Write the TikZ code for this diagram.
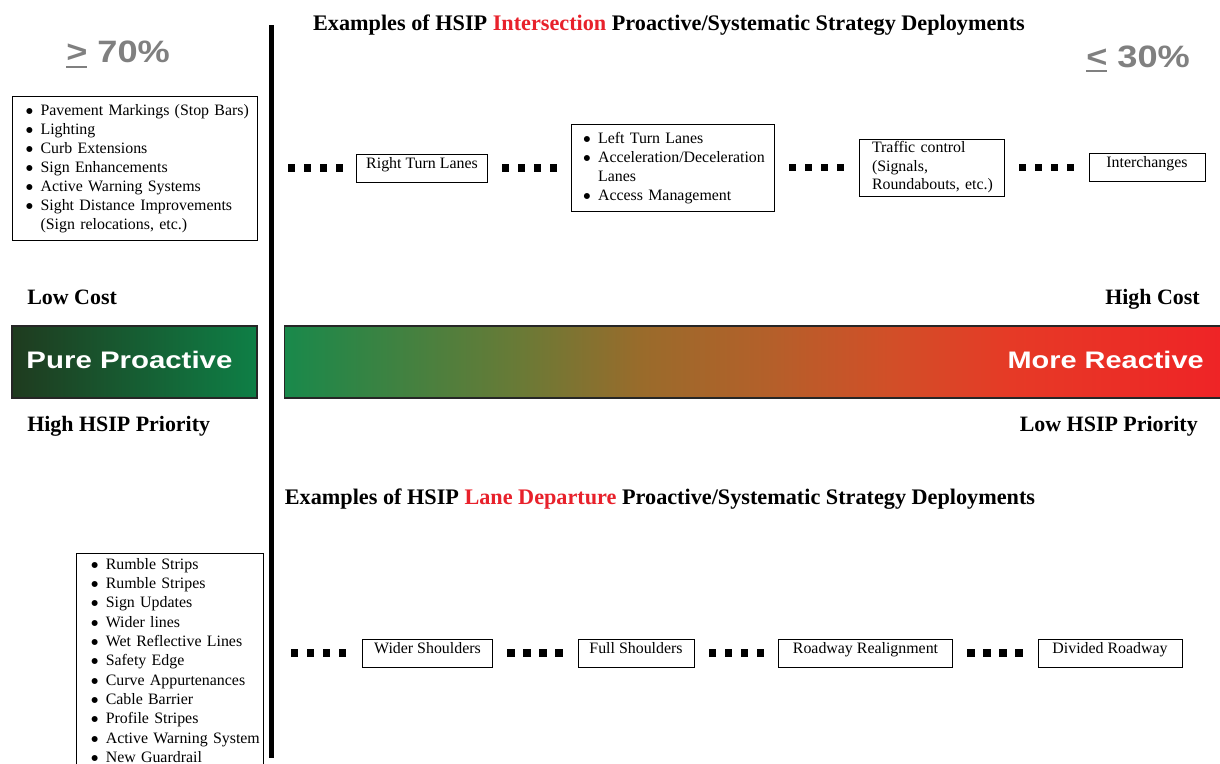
\documentclass[tikz,border=0pt]{standalone}
\usepackage{fontspec}
\setmainfont{Liberation Serif}
\newfontfamily\arialfont{Liberation Sans}
\newfontfamily\dejafont{DejaVu Sans}
\usepackage{xcolor}
\definecolor{pctgray}{HTML}{808080}
\definecolor{hsipred}{HTML}{E8212B}
\definecolor{proleft}{HTML}{1F3B1F}
\definecolor{promid}{HTML}{186A37}
\definecolor{proright}{HTML}{0E7F46}
\definecolor{rs0}{HTML}{19894B}
\definecolor{rs1}{HTML}{6A7A36}
\definecolor{rs2}{HTML}{9A6B2B}
\definecolor{rs3}{HTML}{B3602A}
\definecolor{rs4}{HTML}{D14F28}
\definecolor{rs5}{HTML}{E63A26}
\definecolor{rs6}{HTML}{EF2326}
\usepackage{tikz}
\usetikzlibrary{positioning,calc}
\pgfdeclarehorizontalshading{reactshade}{100bp}{color(0bp)=(rs0); color(25bp)=(rs0); color(37.5bp)=(rs1); color(44bp)=(rs2); color(50.5bp)=(rs3); color(57bp)=(rs4); color(63.5bp)=(rs5); color(75bp)=(rs6); color(100bp)=(rs6)}

\newcommand\boxfont{\fontsize{11.3}{13.5}\selectfont}
\newcommand\costfont{\fontsize{15.6}{18}\selectfont\bfseries}
\newcommand\headfont{\fontsize{15.8}{18}\selectfont\bfseries}
\newcommand\pctfont{\arialfont\bfseries\fontsize{22}{26}\selectfont}
\newcommand\barfont{\arialfont\bfseries\fontsize{17}{20}\selectfont}
\newcommand\sqrow{\rule{0.183cm}{0.183cm}\hspace{0.217cm}\rule{0.183cm}{0.183cm}\hspace{0.217cm}\rule{0.183cm}{0.183cm}\hspace{0.217cm}\rule{0.183cm}{0.183cm}}
\newcommand\ulsym[1]{\setbox0=\hbox{#1}\rlap{\rule[-3.5pt]{\wd0}{1.4pt}}\box0\relax}
\newcommand\itm{\raisebox{1.5pt}{\dejafont\fontsize{5.5}{6}\selectfont ●}}

\begin{document}
\begin{tikzpicture}[x=0.025cm, y=-0.025cm,
    stratbox/.style={draw, line width=0.7pt, inner sep=0pt, text height=0.36cm, text depth=0.34cm, font=\boxfont},
    listbox/.style={draw, line width=0.7pt, inner xsep=0pt, inner ysep=2.5pt, align=left, font=\boxfont},
    dotgap/.style={inner sep=0pt},
    cost/.style={inner sep=0pt, font=\costfont},
    heading/.style={inner sep=0pt, font=\headfont},
    pct/.style={inner sep=0pt, text=pctgray, font=\pctfont},
    bar/.style={draw=black!85, line width=0.8pt, minimum height=1.8cm, inner sep=0pt},
    barlabel/.style={inner sep=0pt, text=white, font=\barfont},
  ]
    \clip (0,0) rectangle (1220,763);
    \fill[white] (0,0) rectangle (1220,763);

    \node[fill=black, inner sep=0pt, minimum width=0.1325cm, minimum height=18.325cm] (divider) at (271.5,391.5) {};

    \node[pct, anchor=base west] (hipct) at (66,62.7) {\scalebox{1.17}[1]{\ulsym{>} 70\%}};
    \node[pct, anchor=base west] (lopct) at (1086,67.3) {\scalebox{1.17}[1]{\ulsym{<} 30\%}};

    % intersection strategies
    \node[heading, anchor=base] (intertitle) at (669,30.5)
      {Examples of HSIP \textcolor{hsipred}{Intersection} Proactive/Systematic Strategy Deployments};
    \node[listbox, anchor=north west, text width=6.125cm, minimum height=3.6cm] (interlist) at (12,96)
      {\begin{tabular}{@{\hspace{0.34cm}}l@{\hspace{5.5pt}}l@{}}
        \itm & Pavement Markings (Stop Bars)\\
        \itm & Lighting\\
        \itm & Curb Extensions\\
        \itm & Sign Enhancements\\
        \itm & Active Warning Systems\\
        \itm & Sight Distance Improvements\\
             & (Sign relocations, etc.)
       \end{tabular}};
    \node[stratbox, minimum width=3.25cm] (rtl) at (422,168) {Right Turn Lanes};
    \node[listbox, text width=5.05cm, minimum height=2.15cm] (ltl) at (673,168)
      {\begin{tabular}{@{\hspace{0.29cm}}l@{\hspace{5.5pt}}l@{}}
        \itm & Left Turn Lanes\\
        \itm & Acceleration/Deceleration\\
             & Lanes\\
        \itm & Access Management
       \end{tabular}};
    \node[listbox, text width=3.625cm, minimum height=1.425cm, inner ysep=0pt, font=\fontsize{11.3}{13}\selectfont] (tctrl) at (931.5,167.5)
      {\begin{tabular}{@{\hspace{0.325cm}}l@{}}
        Traffic control\\
        (Signals,\\
        Roundabouts, etc.)
       \end{tabular}};
    \node[stratbox, minimum width=2.9cm] (ich) at (1147,167.5) {Interchanges};

    \path (divider.east |- rtl.west) -- (rtl.west) node[dotgap, midway] (d1) {\sqrow};
    \path (rtl.east) -- (ltl.west) node[dotgap, midway] (d2) {\sqrow};
    \path (ltl.east) -- (tctrl.west) node[dotgap, midway] (d3) {\sqrow};
    \path (tctrl.east) -- (ich.west) node[dotgap, midway] (d4) {\sqrow};

    % cost / priority scale
    \node[cost, anchor=base west] (lowcost) at (27,304) {Low Cost};
    \node[cost, anchor=base east] (highcost) at (1200,304) {High Cost};
    \node[bar, minimum width=6.125cm, left color=proleft, middle color=promid, right color=proright] (proactive) at (134.5,362) {};
    \node[bar, minimum width=23.575cm, shading=reactshade] (reactive) at (756.5,362) {};
    \node[barlabel, anchor=west] (pplabel) at ([xshift=0.37cm, yshift=0.06cm]proactive.west) {\scalebox{1.23}[1]{Pure Proactive}};
    \node[barlabel, anchor=east] (mrlabel) at (1204,359.5) {\scalebox{1.21}[1]{More Reactive}};
    \node[cost, anchor=base west] (highprio) at (27,431) {High HSIP Priority};
    \node[cost, anchor=base east] (lowprio) at (1198,431) {Low HSIP Priority};

    % lane departure strategies
    \node[heading, anchor=base] (lanetitle) at (660,504)
      {Examples of HSIP \textcolor{hsipred}{Lane Departure} Proactive/Systematic Strategy Deployments};
    \node[listbox, anchor=north west, text width=4.675cm, inner ysep=1.5pt, font=\fontsize{11.3}{13.75}\selectfont] (lanelist) at (76,553)
      {\begin{tabular}{@{\hspace{0.37cm}}l@{\hspace{5.5pt}}l@{}}
        \itm & Rumble Strips\\
        \itm & Rumble Stripes\\
        \itm & Sign Updates\\
        \itm & Wider lines\\
        \itm & Wet Reflective Lines\\
        \itm & Safety Edge\\
        \itm & Curve Appurtenances\\
        \itm & Cable Barrier\\
        \itm & Profile Stripes\\
        \itm & Active Warning System\\
        \itm & New Guardrail
       \end{tabular}};
    \node[stratbox, minimum width=3.225cm] (ws) at (427.5,653) {Wider Shoulders};
    \node[stratbox, minimum width=2.9cm] (fs) at (636,653) {Full Shoulders};
    \node[stratbox, minimum width=4.325cm] (rr) at (865.5,653) {Roadway Realignment};
    \node[stratbox, minimum width=3.6cm] (dr) at (1110,653) {Divided Roadway};

    \path (divider.east |- ws.west) -- (ws.west) node[dotgap, midway] (d5) {\sqrow};
    \path (ws.east) -- (fs.west) node[dotgap, midway] (d6) {\sqrow};
    \path (fs.east) -- (rr.west) node[dotgap, midway] (d7) {\sqrow};
    \path (rr.east) -- (dr.west) node[dotgap, midway] (d8) {\sqrow};
\end{tikzpicture}
\end{document}
